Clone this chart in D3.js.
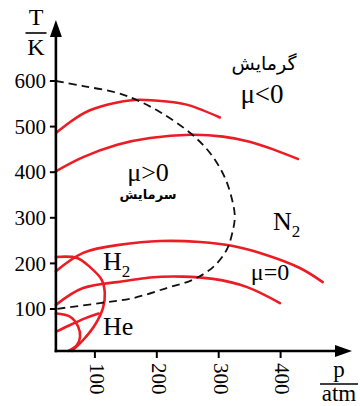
<!DOCTYPE html>
<html>
<head>
<meta charset="utf-8">
<script src="https://cdn.jsdelivr.net/npm/d3@7/dist/d3.min.js"></script>
<style>
  html, body { margin: 0; padding: 0; background: #fff; }
  svg { display: block; }
</style>
</head>
<body>
<svg id="chart" width="360" height="406"></svg>
<script>
// Joule–Thomson isenthalps and inversion curves (pressure p in atm, temperature T in K)
const pressureTicks = [100, 200, 300, 400];
const temperatureTicks = [100, 200, 300, 400, 500, 600];

// N2 isenthalps [p, T]
const n2Curve1 = [[37,486],[60,510],[92,536],[136,553],[173,559],[216,555],[254,546],[302,520]];
const n2Curve2 = [[37,402],[81,433],[136,460],[189,475],[254,482],[307,478],[350,467],[388,450],[428,429]];
const n2Curve3 = [[37,183],[81,223],[136,240],[205,249],[270,247],[323,238],[378,218],[431,190],[468,159]];
const n2Curve4 = [[37,109],[81,146],[136,159],[189,169],[242,171],[291,166],[346,148],[399,113]];

// N2 inversion curve (μ = 0)
const n2Inversion = [[37,600],[81,589],[136,574],[168,558],[205,532],[254,486],[286,442],[310,388],
  [323,332],[326,302],[323,273],[313,230],[291,192],[258,164],[216,146],[162,124],[108,113],[37,100]];

// H2 and He inversion curves and a He isenthalp
const h2Inversion = [[37,214],[71,212],[92,192],[111,164],[116,135],[113,102],[100,65],[81,32],[63,8]];
const heInversion = [[37,90],[60,83],[73,61],[76,39],[71,21],[57,8]];
const heCurve = [[37,50],[60,65],[85,80],[106,90]];

const serif = "'Liberation Serif', 'Times New Roman', 'DejaVu Serif', serif";
const sans = "'DejaVu Sans', sans-serif";

const svg = d3.select("#chart");
const x = d3.scaleLinear().domain([0, 500]).range([33, 342.5]);
const y = d3.scaleLinear().domain([0, 600]).range([354.6, 81]);

const axisLeft = x(37);   // vertical axis position
const axisBottom = 351;   // horizontal axis position

const smooth = d3.line().x(d => x(d[0])).y(d => y(d[1])).curve(d3.curveNatural);
const loop = d3.line().x(d => x(d[0])).y(d => y(d[1])).curve(d3.curveCatmullRom.alpha(0.5));

// red curves
const red = "#ec1c24";
[n2Curve1, n2Curve2, n2Curve3, n2Curve4, heCurve].forEach(c => {
  svg.append("path").attr("d", smooth(c)).attr("fill", "none")
    .attr("stroke", red).attr("stroke-width", 2.6).attr("stroke-linecap", "round");
});
[h2Inversion, heInversion].forEach(c => {
  svg.append("path").attr("d", loop(c)).attr("fill", "none")
    .attr("stroke", red).attr("stroke-width", 2.6).attr("stroke-linecap", "round");
});

// dashed inversion curve
svg.append("path").attr("d", loop(n2Inversion)).attr("fill", "none")
  .attr("stroke", "#111").attr("stroke-width", 1.8).attr("stroke-dasharray", "8,5");

// axes with arrowheads
svg.append("line").attr("x1", axisLeft).attr("x2", axisLeft).attr("y1", axisBottom + 1.2).attr("y2", 34)
  .attr("stroke", "#000").attr("stroke-width", 2.6);
svg.append("path").attr("d", `M${axisLeft},20 L${axisLeft - 6},37 L${axisLeft + 6},37 Z`).attr("fill", "#000");
svg.append("line").attr("x1", axisLeft - 1.2).attr("x2", 338).attr("y1", axisBottom).attr("y2", axisBottom)
  .attr("stroke", "#000").attr("stroke-width", 2.6);
svg.append("path").attr("d", `M352,${axisBottom} L335,${axisBottom - 6} L335,${axisBottom + 6} Z`).attr("fill", "#000");

// y ticks and labels
const yt = svg.append("g");
temperatureTicks.forEach(t => {
  yt.append("line").attr("x1", axisLeft - 6).attr("x2", axisLeft).attr("y1", y(t)).attr("y2", y(t))
    .attr("stroke", "#000").attr("stroke-width", 2);
  yt.append("text").attr("font-family", serif).attr("x", axisLeft - 10).attr("y", y(t))
    .attr("dy", "0.34em").attr("text-anchor", "end").attr("font-size", 21).text(t);
});

// x ticks and rotated labels
const xt = svg.append("g");
pressureTicks.forEach(p => {
  xt.append("line").attr("x1", x(p)).attr("x2", x(p)).attr("y1", axisBottom).attr("y2", axisBottom + 7)
    .attr("stroke", "#000").attr("stroke-width", 2);
  xt.append("text").attr("font-family", serif)
    .attr("transform", `translate(${x(p) + 2},${axisBottom + 12}) rotate(90)`)
    .attr("dy", "0.34em").attr("text-anchor", "start").attr("font-size", 21).text(p);
});

// axis titles as fractions
function fraction(cx, topText, topY, lineY, lineW, botText, botY, size) {
  svg.append("text").attr("font-family", serif).attr("x", cx).attr("y", topY)
    .attr("text-anchor", "middle").attr("font-size", size).text(topText);
  svg.append("line").attr("x1", cx - lineW / 2).attr("x2", cx + lineW / 2).attr("y1", lineY).attr("y2", lineY)
    .attr("stroke", "#000").attr("stroke-width", 1.6);
  svg.append("text").attr("font-family", serif).attr("x", cx).attr("y", botY)
    .attr("text-anchor", "middle").attr("font-size", size).text(botText);
}
fraction(36, "T", 25, 33, 21, "K", 55, 24);
fraction(339, "p", 377, 384, 38, "atm", 401, 23);

// region labels
function label(txt, lx, ly, size, family, weight) {
  return svg.append("text").attr("font-family", family).attr("x", lx).attr("y", ly)
    .attr("text-anchor", "middle").attr("font-size", size).attr("font-weight", weight || "normal").text(txt);
}
label("گرمایش", 264, 70, 19, sans);
label("μ<0", 262, 103, 27, serif);
label("μ>0", 148, 181, 26, serif);
label("سرمایش", 148, 199, 13, sans, "bold");
label("μ=0", 270, 280, 24, serif);

function chem(sym, sub, lx, ly) {
  const t = svg.append("text").attr("font-family", serif).attr("x", lx).attr("y", ly).attr("font-size", 26);
  t.append("tspan").text(sym);
  if (sub) t.append("tspan").attr("font-size", 17).attr("dy", 7).text(sub);
}
chem("N", "2", 273, 230);
chem("H", "2", 103, 270);
chem("He", null, 103, 335);
</script>
</body>
</html>
